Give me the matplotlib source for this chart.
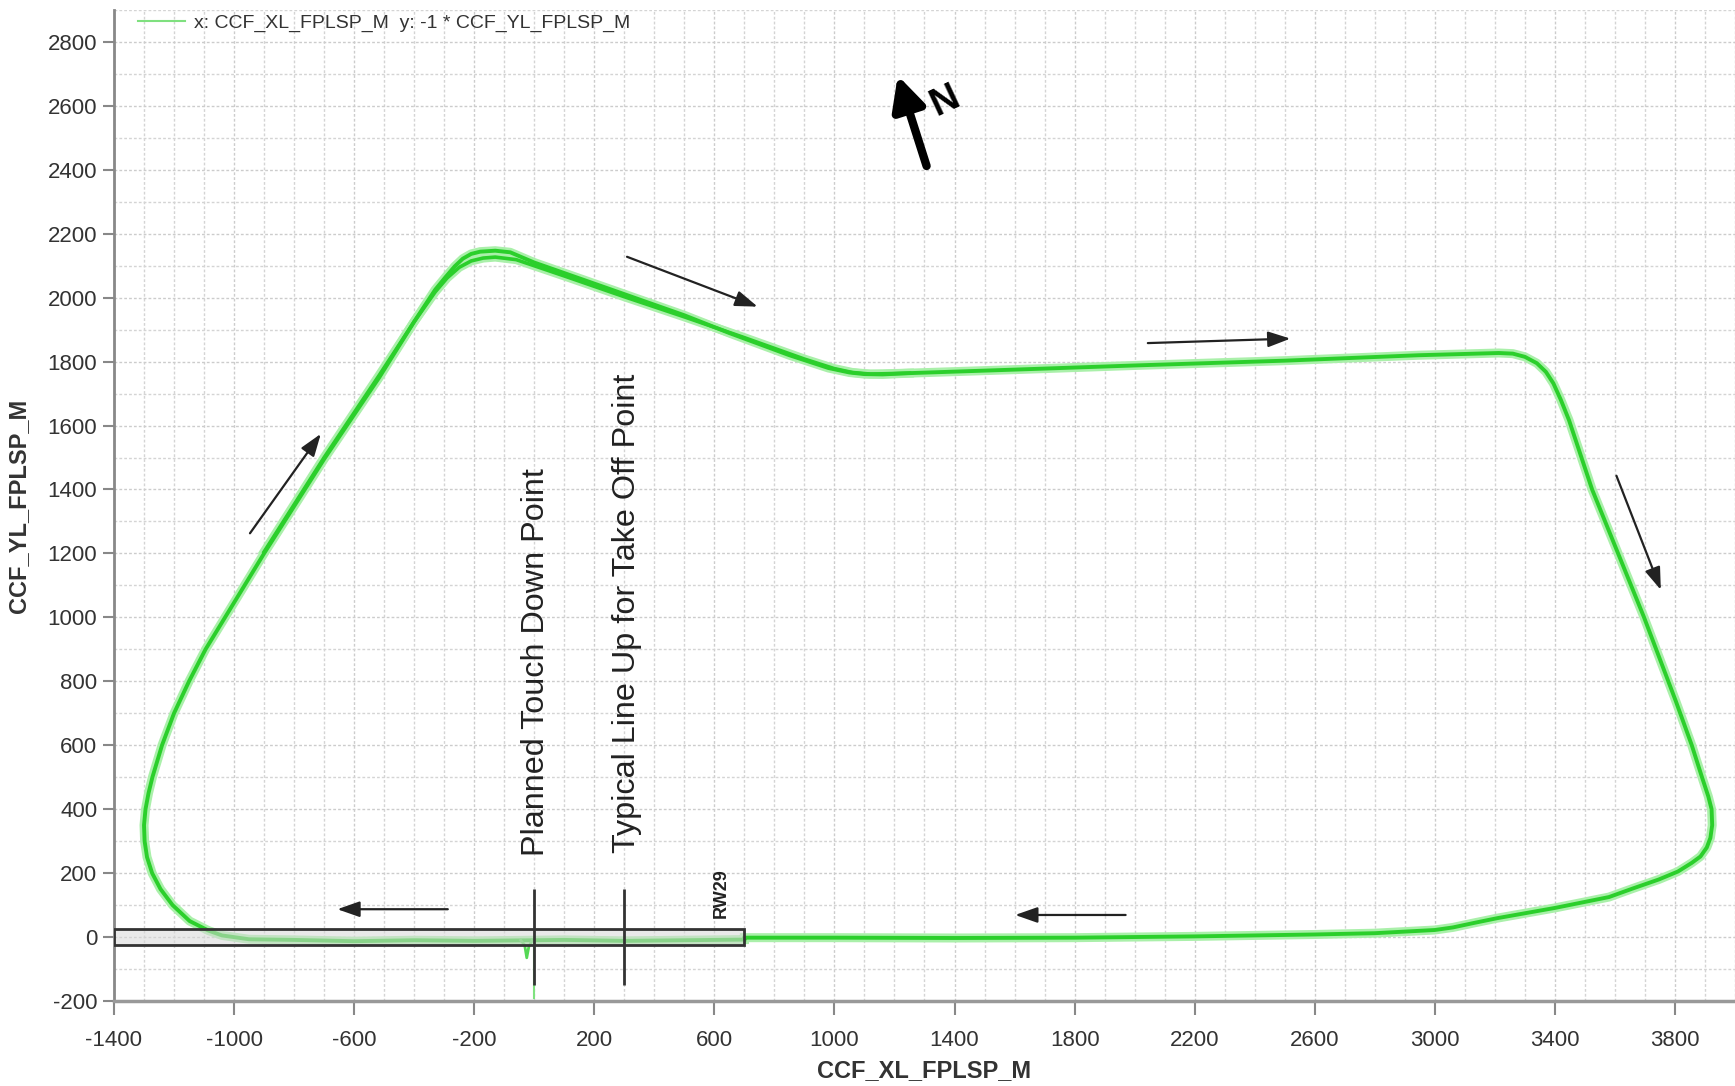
import numpy as np
import matplotlib
matplotlib.use('Agg')
import matplotlib.pyplot as plt
from matplotlib import font_manager
from matplotlib.lines import Line2D
from matplotlib.patches import Rectangle
from matplotlib.ticker import MultipleLocator

# flight track (clockwise, start at runway end)
lap1_x = [700, 500, 300, 100, 0, -200, -400, -600, -800, -950, -1040, -1085, -1148, -1205,
          -1245, -1273, -1290, -1298, -1300, -1295, -1285, -1272, -1240, -1200, -1150, -1095,
          -1030, -965, -900, -700, -516, -400, -330, -295, -265, -238, -210, -180, -130,
          -80, 0, 261, 500, 651, 850, 980, 1050, 1100, 1160, 1250, 1600, 2000, 2500, 2946, 3100,
          3213, 3260, 3300, 3340, 3370, 3395, 3420, 3447, 3524, 3697, 3802, 3856, 3890, 3911,
          3922, 3924, 3918, 3906, 3885, 3856, 3810, 3746, 3660, 3580, 3400, 3208, 3130, 3060,
          3000, 2800, 2600, 2200, 1800, 1400, 1000, 700]
lap1_y = [-8, -10, -12, -9, -10, -12, -10, -13, -9, -7, 5, 20, 50, 100,
          150, 200, 250, 300, 350, 400, 450, 500, 600, 700, 800, 900,
          1000, 1100, 1200, 1495, 1751, 1925, 2025, 2065, 2098, 2122, 2137, 2144, 2147,
          2142, 2110, 2024, 1945, 1889, 1820, 1780, 1766, 1761, 1760, 1764, 1775, 1788, 1803, 1820, 1824,
          1827, 1825, 1815, 1795, 1768, 1732, 1680, 1617, 1400, 1000, 740, 600, 500, 440,
          400, 350, 310, 280, 252, 232, 205, 180, 152, 125, 91, 59, 44, 30,
          22, 12, 8, 2, -2, -3, -2, -2]

# second lap where it separates from the first (top left)
lap2_x = [-900, -700, -516, -400, -330, -290, -250, -210, -170, -130, -60, 100, 300, 500,
          700, 900, 1000, 1060, 1120, 1250]
lap2_y = [1205, 1500, 1758, 1925, 2018, 2062, 2095, 2115, 2124, 2127, 2119, 2068, 2003, 1940,
          1875, 1808, 1778, 1766, 1761, 1764]

# touch down wiggle and spike
td_x = [-45, -32, -25, -18, -8]
td_y = [-10, -25, -65, -30, -12]
spike_x = [0, 0]
spike_y = [-15, -190]

x_ticks = list(range(-1400, 4000, 400))
y_ticks = list(range(-200, 2900, 200))

names = {f.name for f in font_manager.fontManager.ttflist}
narrow = 'Liberation Sans Narrow' if 'Liberation Sans Narrow' in names else 'Liberation Sans'
plt.rcParams['axes.unicode_minus'] = False

fig = plt.figure(figsize=(17.35, 10.86), dpi=100)
ax = fig.add_axes([0.0657, 0.0783, 0.9343, 0.9125])

green = '#2bcf2b'
halo = '#aaf0aa'
ax.plot(lap1_x, lap1_y, color=halo, lw=6.5, zorder=2, solid_joinstyle='round')
ax.plot(lap2_x, lap2_y, color=halo, lw=6.5, zorder=2, solid_joinstyle='round')
ax.plot(lap1_x, lap1_y, color=green, lw=2.8, zorder=3, solid_joinstyle='round')
ax.plot(lap2_x, lap2_y, color=green, lw=2.6, zorder=3, solid_joinstyle='round')
ax.plot(td_x, td_y, color='#55d855', lw=2, zorder=3)
ax.plot(spike_x, spike_y, color='#7fe27f', lw=1.5, zorder=3)

# runway box
ax.add_patch(Rectangle((-1400, -25), 2100, 50, facecolor='#d8d8d8', alpha=0.55,
                       edgecolor='none', zorder=4))
ax.add_patch(Rectangle((-1400, -25), 2100, 50, facecolor='none', edgecolor='#333333',
                       lw=2, zorder=5))
ax.vlines([0, 300], -150, 150, color='#333333', lw=2, zorder=5)

ax.text(5, 255, 'Planned Touch Down Point', rotation=90, ha='center', va='bottom',
        family='Liberation Sans', fontsize=23.3, color='#222222', zorder=6)
ax.text(309, 262, 'Typical Line Up for Take Off Point', rotation=90, ha='center', va='bottom',
        family='Liberation Sans', fontsize=23.3, color='#222222', zorder=6)
ax.text(622, 60, 'RW29', rotation=90, ha='center', va='bottom', family=narrow,
        fontweight='bold', fontsize=13, color='#222222', zorder=6)

# direction arrows
tails = [(-947, 1263), (309, 2128), (2044, 1858), (3605, 1443), (1970, 69), (-288, 87)]
heads = [(-711, 1574), (744, 1972), (2519, 1872), (3753, 1086), (1602, 69), (-656, 87)]
for t, h in zip(tails, heads):
    ax.annotate('', xy=h, xytext=t,
                arrowprops=dict(arrowstyle='-|>,head_length=0.8,head_width=0.28', color='#222222',
                                lw=1.6, mutation_scale=17, shrinkA=0, shrinkB=0), zorder=6)

# north arrow
ax.annotate('', xy=(1211, 2695), xytext=(1307, 2412),
            arrowprops=dict(arrowstyle='-|>,head_length=0.9,head_width=0.45', color='black',
                            lw=6, mutation_scale=22, shrinkA=0, shrinkB=0))
ax.text(1368, 2615, 'N', rotation=25, ha='center', va='center', fontsize=28,
        fontweight='bold', family='Liberation Sans', color='black')

ax.set_xlim(-1400, 4000)
ax.set_ylim(-200, 2900)
ax.set_xticks(x_ticks)
ax.set_xticklabels([str(v) for v in x_ticks])
ax.set_yticks(y_ticks)
ax.set_yticklabels([str(v) for v in y_ticks])
ax.xaxis.set_minor_locator(MultipleLocator(100))
ax.yaxis.set_minor_locator(MultipleLocator(100))
ax.grid(which='major', color='#cccccc', lw=1.0, ls=(0, (2, 1.5)), zorder=0)
ax.grid(which='minor', color='#d4d4d4', lw=1.0, ls=(0, (2, 1.5)), zorder=0)
ax.set_axisbelow(True)
ax.tick_params(which='minor', length=0)
ax.tick_params(axis='x', which='major', direction='out', length=10, width=1.5, color='#888888',
               labelcolor='#333333', pad=11)
ax.tick_params(axis='y', which='major', direction='out', length=8, width=1.5, color='#888888',
               labelcolor='#333333', pad=4)
for lab in ax.get_xticklabels() + ax.get_yticklabels():
    lab.set_family(narrow)
    lab.set_fontsize(16)

for s in ['top', 'right']:
    ax.spines[s].set_visible(False)
ax.spines['left'].set_color('#888888')
ax.spines['left'].set_linewidth(2)
ax.spines['bottom'].set_color('#999999')
ax.spines['bottom'].set_linewidth(2.5)

ax.set_xlabel('CCF_XL_FPLSP_M', family=narrow, fontweight='bold', fontsize=17, color='#333333')
ax.set_ylabel('CCF_YL_FPLSP_M', family=narrow, fontweight='bold', fontsize=17, color='#333333')
ax.xaxis.set_label_coords(0.5, -0.059)
ax.yaxis.set_label_coords(-0.052, 0.5)

ax.legend(handles=[Line2D([], [], color='#7fe07f', lw=1.5)],
          labels=['x: CCF_XL_FPLSP_M  y: -1 * CCF_YL_FPLSP_M'],
          loc='upper left', bbox_to_anchor=(0.004, 1.013), frameon=False,
          prop=dict(family=narrow, size=14), labelcolor='#333333',
          handlelength=2.4, handletextpad=0.5)

plt.savefig('out.png', dpi=100)
